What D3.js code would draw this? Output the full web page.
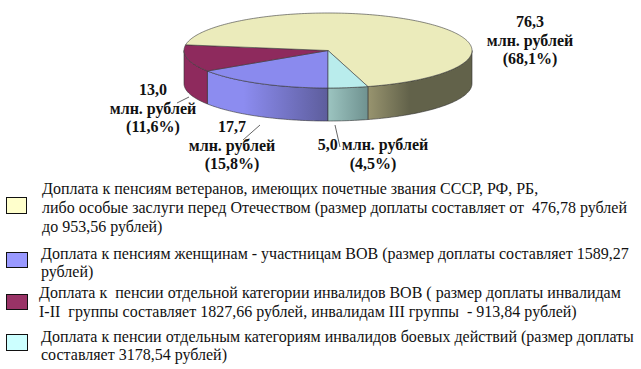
<!DOCTYPE html>
<html><head><meta charset="utf-8">
<script src="https://cdn.jsdelivr.net/npm/d3@7"></script>
<style>html,body{margin:0;background:#fff}svg{display:block}text{font-family:"Liberation Serif",serif;fill:#111}</style>
</head><body><svg id="c" width="641" height="369"></svg>
<script>
const categories=["blue","crimson","yellow","aqua"];
const values=[17.7,13.0,76.3,5.0];
const topColors=["#8a8aee","#8e2a5d","#ebebbb","#b9ecec"];
const wallLight=["#8c8cf0","#8e2a5d","#98946f","#9cc4c0"];
const wallDark=["#5d5d9c","#8e2a5d","#62624a","#6f9290"];
const wallLightUntil=[0.3,0,0,0];
const wallDarkFrom=[1,1,0.4,1];
const valueLabels=[["17,7","млн. рублей","(15,8%)"],["13,0","млн. рублей","(11,6%)"],["76,3","млн. рублей","(68,1%)"],["5,0 млн. рублей","(4,5%)"]];
const legendLines=[
["Доплата к пенсиям ветеранов, имеющих почетные звания СССР, РФ, РБ,","либо особые заслуги перед Отечеством (размер доплаты составляет от  476,78 рублей","до 953,56 рублей)"],
["Доплата к пенсиям женщинам - участницам ВОВ (размер доплаты составляет 1589,27","рублей)"],
["Доплата к  пенсии отдельной категории инвалидов ВОВ ( размер доплаты инвалидам","I-II  группы составляет 1827,66 рублей, инвалидам III группы  - 913,84 рублей)"],
["Доплата к пенсии отдельным категориям инвалидов боевых действий (размер доплаты","составляет 3178,54 рублей)"]];
const legendColors=["#ffffcc","#9999ff","#993366","#ccffff"];

const svg=d3.select("#c");
const cx=328,cy=50.5,rx=144,ry=37.5,depth=33;
const pie=d3.pie().sort(null).startAngle(Math.PI).endAngle(3*Math.PI);
const arcs=pie(values);
const sx=d3.scaleLinear().domain([-1,1]).range([cx-rx,cx+rx]);
const sy=d3.scaleLinear().domain([-1,1]).range([cy-ry,cy+ry]);
const px=a=>sx(Math.sin(a)), py=a=>sy(-Math.cos(a));
const defs=svg.append("defs");
function sector(a0,a1){
  const p=[];const n=Math.max(2,Math.ceil((a1-a0)/0.02));
  d3.range(n+1).forEach(i=>{const a=a0+(a1-a0)*i/n;p.push([px(a),py(a)]);});
  return "M"+cx+","+cy+"L"+p.map(d=>d.join(",")).join("L")+"Z";
}
function wall(a0,a1){
  const p=[];const n=Math.max(2,Math.ceil((a1-a0)/0.02));
  d3.range(n+1).forEach(i=>{const a=a0+(a1-a0)*i/n;p.push([px(a),py(a)]);});
  const q=p.slice().reverse().map(d=>[d[0],d[1]+depth]);
  return "M"+p.concat(q).map(d=>d.join(",")).join("L")+"Z";
}
const lo=Math.PI/2,hi=3*Math.PI/2;
const walls=[];
arcs.forEach((d,i)=>{
  [0,2*Math.PI,-2*Math.PI].forEach(k=>{
    const a0=Math.max(d.startAngle+k,lo),a1=Math.min(d.endAngle+k,hi);
    if(a1>a0) walls.push({i,a0,a1});
  });
});
walls.forEach((w,j)=>{
  const x0=px(w.a0),x1=px(w.a1);
  const g=defs.append("linearGradient").attr("id","w"+j).attr("gradientUnits","userSpaceOnUse")
    .attr("x1",Math.min(x0,x1)).attr("x2",Math.max(x0,x1)).attr("y1",0).attr("y2",0);
  g.append("stop").attr("offset",wallLightUntil[w.i]).attr("stop-color",wallLight[w.i]);
  g.append("stop").attr("offset",wallDarkFrom[w.i]).attr("stop-color",wallDark[w.i]);
});
svg.append("g").selectAll("path").data(walls).join("path")
  .attr("d",w=>wall(w.a0,w.a1)).attr("fill",(w,j)=>`url(#w${j})`)
  .attr("stroke","#333").attr("stroke-width",.6).attr("stroke-linejoin","round");
svg.append("g").selectAll("path").data(arcs).join("path")
  .attr("d",d=>sector(d.startAngle,d.endAngle)).attr("fill",(d,i)=>topColors[i])
  .attr("stroke","#3a3a3a").attr("stroke-width",.6).attr("stroke-linejoin","round");

// leader lines
const leaders=[[260,125,243,140],[189,97,177,103],[335,125,340,147]];
svg.append("g").selectAll("line").data(leaders).join("line")
  .attr("x1",d=>d[0]).attr("y1",d=>d[1]).attr("x2",d=>d[2]).attr("y2",d=>d[3])
  .attr("stroke","#222").attr("stroke-width",.7);

// value labels
const labelPos=[[232,132],[153,95],[530,27],[373,150]];
valueLabels.forEach((lines,i)=>{
  svg.append("text").attr("text-anchor","middle").attr("font-weight","bold").attr("font-size",16)
   .selectAll("tspan").data(lines).join("tspan")
   .attr("x",labelPos[i][0]).attr("y",(d,j)=>labelPos[i][1]+j*18.5).text(d=>d);
});

// legend
const swatches=[[6,197,20,16],[6,252,21,15],[6,294,21,15],[6,334,21,16]];
svg.append("g").selectAll("rect").data(legendColors).join("rect")
  .attr("x",(d,i)=>swatches[i][0]+.5).attr("y",(d,i)=>swatches[i][1]+.5)
  .attr("width",(d,i)=>swatches[i][2]).attr("height",(d,i)=>swatches[i][3])
  .attr("fill",d=>d).attr("stroke","#111").attr("stroke-width",1);
const legendX=[42,41,39,41];
const legendY=[[194,213,232],[259,277],[298,317],[342,360]];
legendLines.forEach((lines,i)=>{
  svg.append("g").selectAll("text").data(lines).join("text")
   .attr("x",legendX[i]).attr("y",(d,j)=>legendY[i][j]).attr("font-size",16).style("white-space","pre").text(d=>d);
});
</script></body></html>
